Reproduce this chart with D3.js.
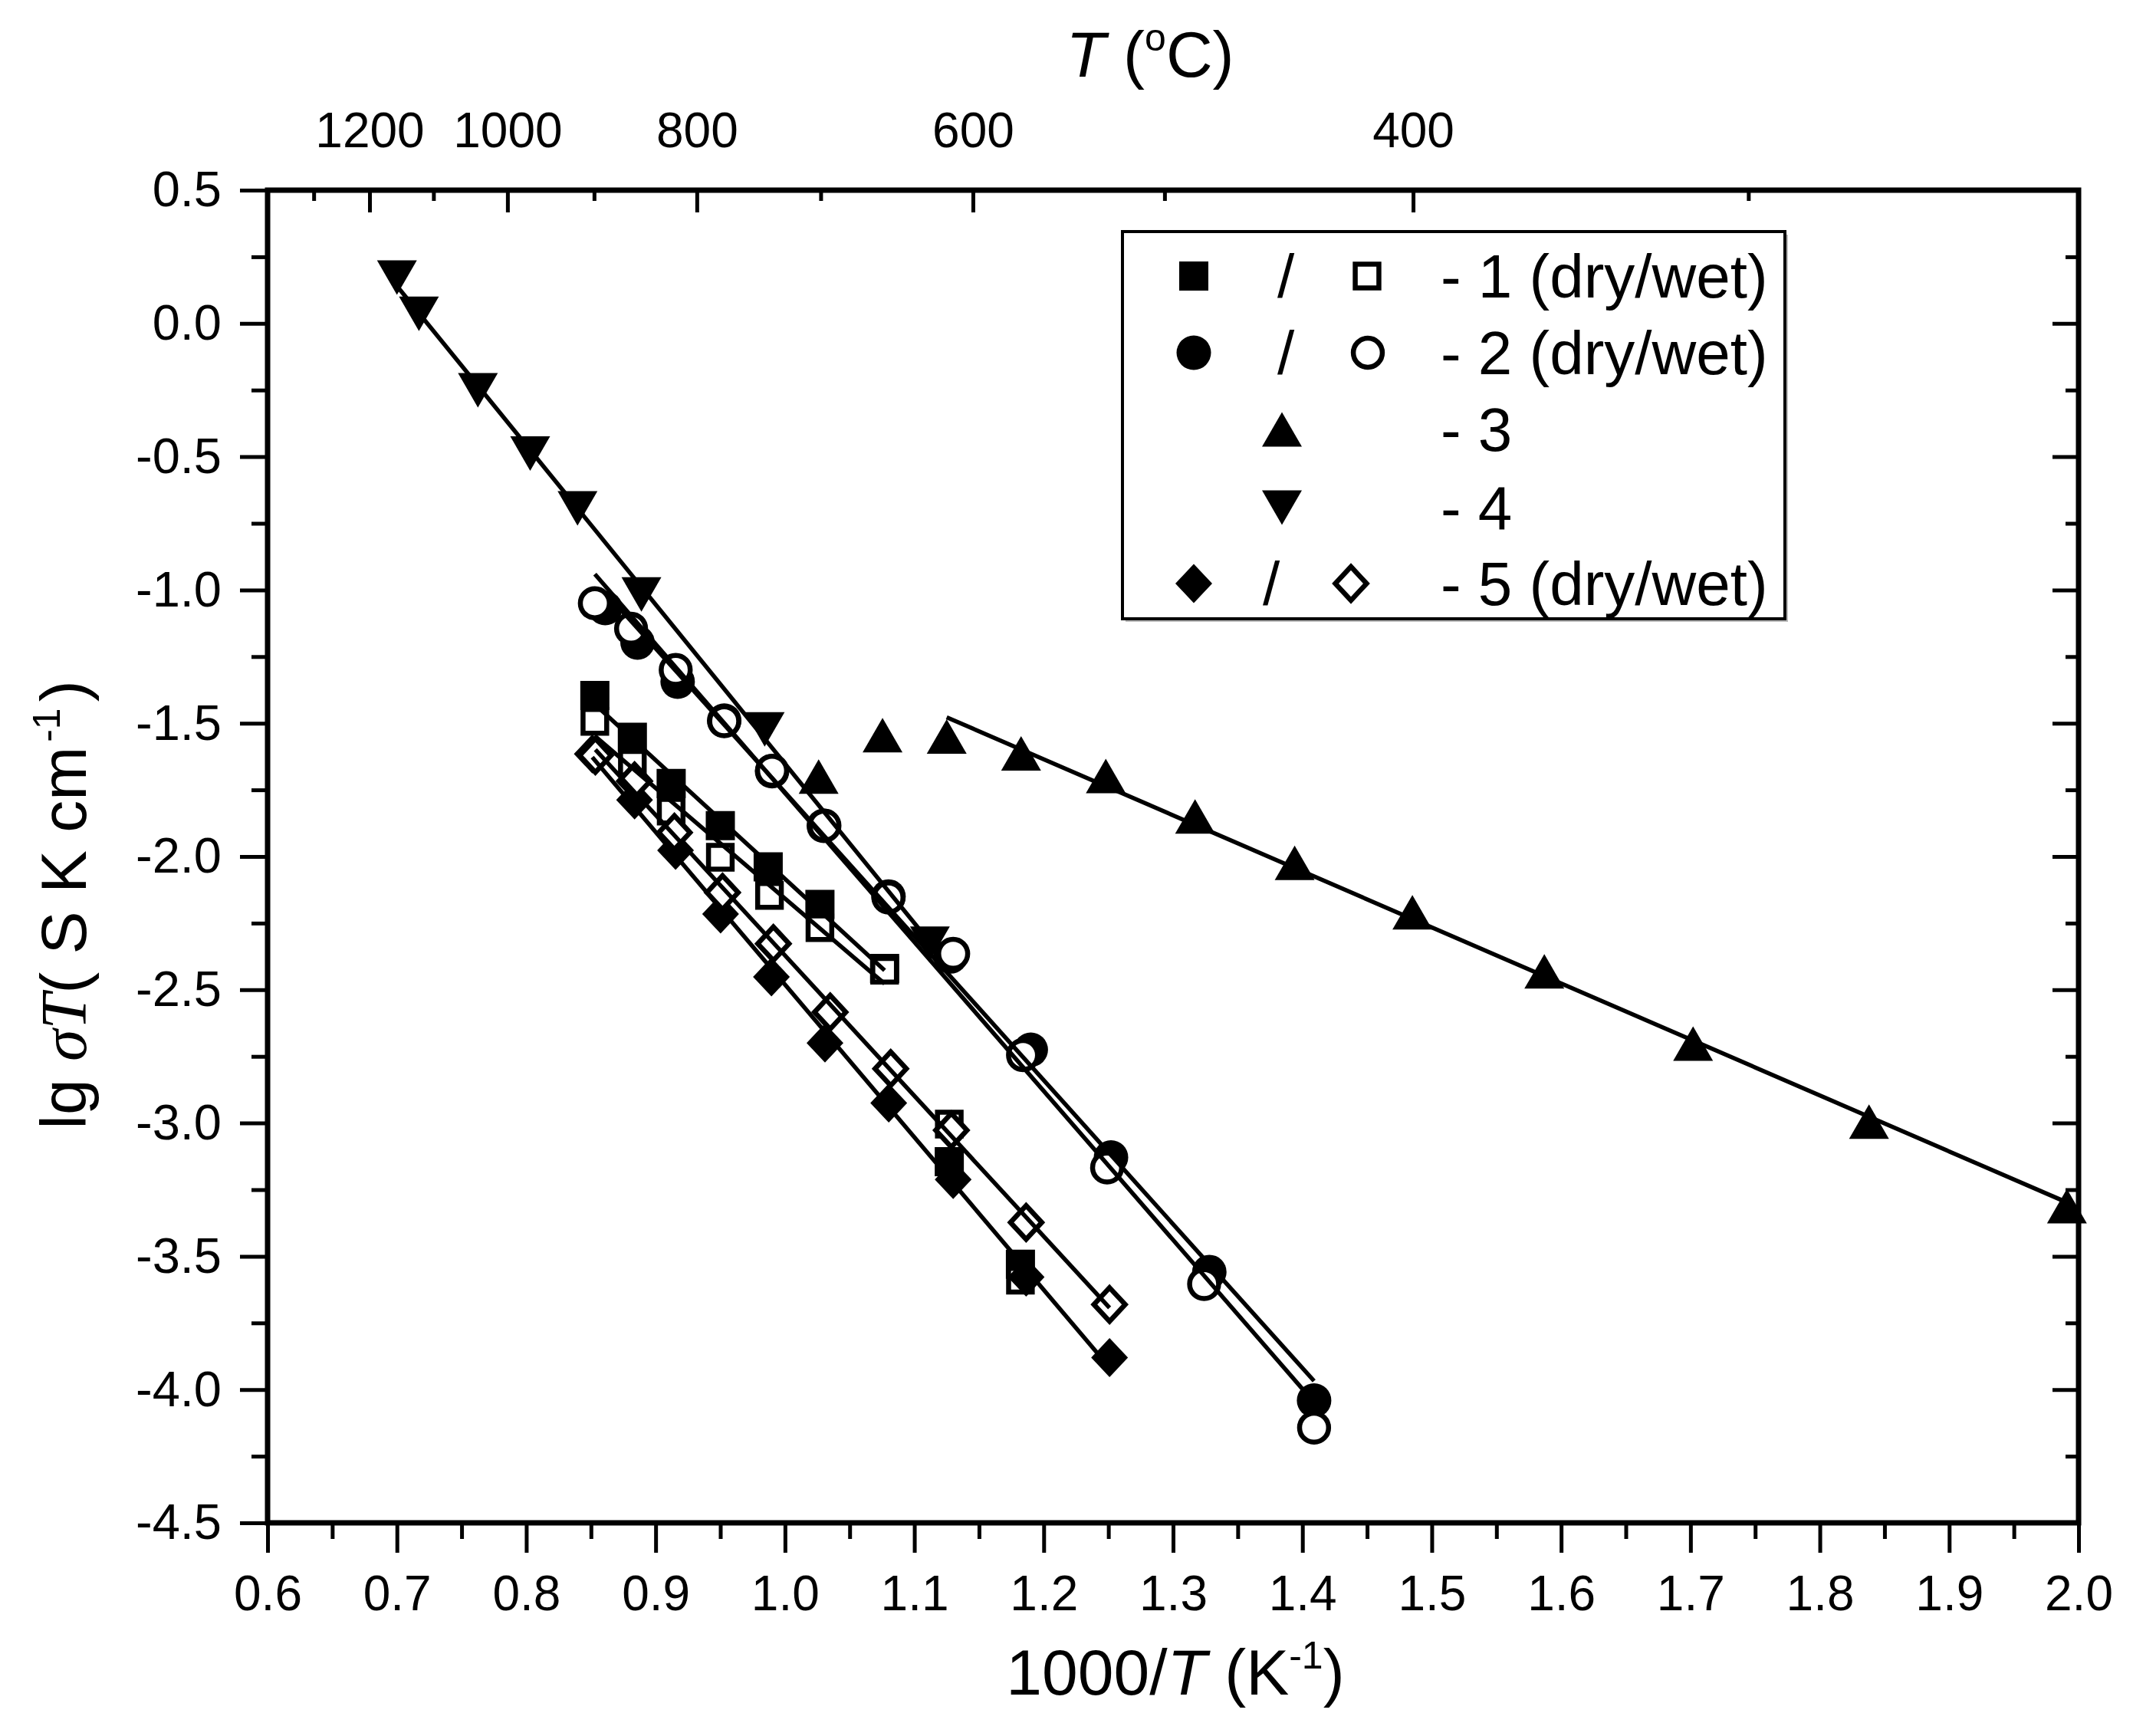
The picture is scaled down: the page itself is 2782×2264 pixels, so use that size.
<!DOCTYPE html>
<html><head><meta charset="utf-8">
<script src="https://cdn.jsdelivr.net/npm/d3@7"></script>
<style>
html,body{margin:0;padding:0;background:#fff;}
svg{display:block;}
</style></head><body>
<svg id="chart" width="2782" height="2264"></svg>
<script>
// ---------------- data ----------------
const xTickValues = [0.6,0.7,0.8,0.9,1.0,1.1,1.2,1.3,1.4,1.5,1.6,1.7,1.8,1.9,2.0];
const xMinorValues = [0.65,0.75,0.85,0.95,1.05,1.15,1.25,1.35,1.45,1.55,1.65,1.75,1.85,1.95];
const yTickValues = [0.5,0.0,-0.5,-1.0,-1.5,-2.0,-2.5,-3.0,-3.5,-4.0,-4.5];
const yMinorValues = [0.25,-0.25,-0.75,-1.25,-1.75,-2.25,-2.75,-3.25,-3.75,-4.25];
const tempMajor = [1200,1000,800,600,400];       // top axis labels, °C
const tempMinor = [1300,1100,900,700,500,300];   // top axis minor ticks, °C

// series 1 (squares) dry / wet
const x1dry = [0.853,0.882,0.912,0.950,0.987,1.027,1.077,1.127,1.182];
const y1dry = [-1.396,-1.553,-1.726,-1.884,-2.039,-2.180,-2.420,-3.145,-3.530];
const x1wet = [0.853,0.882,0.912,0.950,0.988,1.027,1.077,1.127,1.182];
const y1wet = [-1.493,-1.650,-1.830,-2.003,-2.146,-2.267,-2.427,-3.004,-3.590];
// series 2 (circles) dry / wet
const x2dry = [0.861,0.886,0.917,0.953,0.990,1.030,1.080,1.128,1.190,1.252,1.328,1.409];
const y2dry = [-1.068,-1.197,-1.344,-1.490,-1.680,-1.885,-2.150,-2.375,-2.725,-3.129,-3.559,-4.041];
const x2wet = [0.853,0.881,0.9155,0.953,0.990,1.0305,1.080,1.130,1.184,1.249,1.324,1.409];
const y2wet = [-1.050,-1.145,-1.300,-1.4925,-1.678,-1.884,-2.154,-2.365,-2.745,-3.167,-3.604,-4.143];
// series 3 (up triangles)
const x3 = [1.026,1.0754,1.125,1.1825,1.248,1.317,1.394,1.485,1.587,1.702,1.838,1.991];
const y3 = [-1.700,-1.545,-1.550,-1.613,-1.698,-1.850,-2.024,-2.209,-2.431,-2.702,-2.995,-3.312];
// series 4 (down triangles)
const x4 = [0.700,0.717,0.7626,0.803,0.8396,0.889,0.9843,1.112];
const y4 = [0.172,0.036,-0.2506,-0.4885,-0.694,-1.017,-1.523,-2.327];
// series 5 (diamonds) dry / wet
const x5dry = [0.851,0.8837,0.9154,0.9502,0.9895,1.0309,1.0802,1.130,1.1864,1.2509];
const y5dry = [-1.615,-1.788,-1.977,-2.216,-2.452,-2.700,-2.925,-3.212,-3.578,-3.880];
const x5wet = [0.8534,0.8837,0.9145,0.9517,0.991,1.0349,1.0817,1.1286,1.1864,1.2509];
const y5wet = [-1.621,-1.717,-1.910,-2.135,-2.327,-2.584,-2.796,-3.027,-3.373,-3.681];

const legendLabels = ["- 1 (dry/wet)","- 2 (dry/wet)","- 3","- 4","- 5 (dry/wet)"];

// ---------------- layout ----------------
const FONT = "'Liberation Sans', Arial, Helvetica, sans-serif";
const SERIF = "'Liberation Serif', 'Times New Roman', serif";
const x = d3.scaleLinear().domain([0.6,2.0]).range([349,2711]);
const y = d3.scaleLinear().domain([-4.5,0.5]).range([1986,248]);
const svg = d3.select('#chart');
svg.append('rect').attr('width',2782).attr('height',2264).attr('fill','#fff');

function styleAxis(g, fs){
  g.select('.domain').remove();
  g.selectAll('.tick line').attr('stroke','#000').attr('stroke-width',5);
  g.selectAll('.tick text').attr('font-size',fs).attr('font-family',FONT).attr('fill','#000');
}
const fmt1 = d => d.toFixed(1);

// bottom axis
styleAxis(svg.append('g').attr('transform',`translate(0,${y(-4.5)})`)
  .call(d3.axisBottom(x).tickValues(xTickValues).tickFormat(fmt1).tickSizeInner(39).tickSizeOuter(0).tickPadding(30)), 64);
styleAxis(svg.append('g').attr('transform',`translate(0,${y(-4.5)})`)
  .call(d3.axisBottom(x).tickValues(xMinorValues).tickFormat('').tickSizeInner(21).tickSizeOuter(0)), 64);
// left axis
styleAxis(svg.append('g').attr('transform',`translate(${x(0.6)},0)`)
  .call(d3.axisLeft(y).tickValues(yTickValues).tickFormat(fmt1).tickSizeInner(36).tickSizeOuter(0).tickPadding(24)), 65);
styleAxis(svg.append('g').attr('transform',`translate(${x(0.6)},0)`)
  .call(d3.axisLeft(y).tickValues(yMinorValues).tickFormat('').tickSizeInner(21).tickSizeOuter(0)), 64);
// right axis (inward ticks)
styleAxis(svg.append('g').attr('transform',`translate(${x(2.0)},0)`)
  .call(d3.axisRight(y).tickValues(yTickValues).tickFormat('').tickSizeInner(-34).tickSizeOuter(0)), 64);
styleAxis(svg.append('g').attr('transform',`translate(${x(2.0)},0)`)
  .call(d3.axisRight(y).tickValues(yMinorValues).tickFormat('').tickSizeInner(-17).tickSizeOuter(0)), 64);
// top axis: temperature in °C (inward ticks)
const invT = t => 1000/(t+273.15);
styleAxis(svg.append('g').attr('transform',`translate(0,${y(0.5)})`)
  .call(d3.axisTop(x).tickValues(tempMajor.map(invT)).tickFormat((d,i)=>tempMajor[i]).tickSizeInner(-29).tickSizeOuter(0).tickPadding(56)), 64);
styleAxis(svg.append('g').attr('transform',`translate(0,${y(0.5)})`)
  .call(d3.axisTop(x).tickValues(tempMinor.map(invT)).tickFormat('').tickSizeInner(-14).tickSizeOuter(0)), 64);

// frame
svg.append('rect').attr('x',x(0.6)).attr('y',y(0.5)).attr('width',x(2.0)-x(0.6)).attr('height',y(-4.5)-y(0.5))
  .attr('fill','none').attr('stroke','#000').attr('stroke-width',7);

// ---------------- markers ----------------
const SW = 6.5;
const SIZES = {square:[38,38], circle:[45,45], up:[52,45], down:[52,45], diamond:[48,51]};
function shapePath(shape, w, h){
  switch(shape){
    case 'square': return `M${-w/2},${-h/2}h${w}v${h}h${-w}Z`;
    case 'up': return `M0,${-h/2}L${w/2},${h/2}L${-w/2},${h/2}Z`;
    case 'down': return `M0,${h/2}L${w/2},${-h/2}L${-w/2},${-h/2}Z`;
    case 'diamond': return `M0,${-h/2}L${w/2},0L0,${h/2}L${-w/2},0Z`;
  }
}
function marker(g, shape, filled, cx, cy){
  let [w,h] = SIZES[shape];
  if(!filled){ w -= SW*1.1; h -= SW*1.1; }
  let el;
  if(shape==='circle') el = g.append('circle').attr('cx',cx).attr('cy',cy).attr('r',w/2);
  else el = g.append('path').attr('d',shapePath(shape,w,h)).attr('transform',`translate(${cx},${cy})`);
  if(filled) el.attr('fill','#000').attr('stroke','none');
  else el.attr('fill','#fff').attr('stroke','#000').attr('stroke-width',SW).attr('stroke-linejoin','miter');
  return el;
}

const series = [
  {xs:x1dry, ys:y1dry, shape:'square',  filled:true,  fit:[0,6]},
  {xs:x1wet, ys:y1wet, shape:'square',  filled:false, fit:[0,6]},
  {xs:x2dry, ys:y2dry, shape:'circle',  filled:true,  fit:[0,11]},
  {xs:x2wet, ys:y2wet, shape:'circle',  filled:false, fit:[0,11]},
  {xs:x3,    ys:y3,    shape:'up',      filled:true,  fit:[2,11]},
  {xs:x4,    ys:y4,    shape:'down',    filled:true,  fit:[0,7]},
  {xs:x5dry, ys:y5dry, shape:'diamond', filled:true,  fit:[0,9]},
  {xs:x5wet, ys:y5wet, shape:'diamond', filled:false, fit:[0,9]},
];

const gMarks = svg.append('g');
series.forEach(s => s.xs.forEach((xv,i) => marker(gMarks, s.shape, s.filled, x(xv), y(s.ys[i]))));

// least-squares fit lines over each series' fitted points
function fitLine(xs, ys, i0, i1){
  const X = xs.slice(i0,i1+1), Y = ys.slice(i0,i1+1);
  const mx = d3.mean(X), my = d3.mean(Y);
  let sxy=0, sxx=0;
  X.forEach((v,i)=>{ sxy += (v-mx)*(Y[i]-my); sxx += (v-mx)*(v-mx); });
  const b = sxy/sxx, a = my - b*mx;
  const x0 = d3.min(X), x1 = d3.max(X);
  return [[x0,a+b*x0],[x1,a+b*x1]];
}
const line = d3.line().x(d=>x(d[0])).y(d=>y(d[1]));
const gLines = svg.append('g');
series.forEach(s => {
  gLines.append('path').attr('d', line(fitLine(s.xs, s.ys, s.fit[0], s.fit[1])))
    .attr('fill','none').attr('stroke','#000').attr('stroke-width',5.5);
});

// ---------------- legend ----------------
const lg = svg.append('g');
lg.append('rect').attr('x',1468).attr('y',306).attr('width',864).attr('height',505).attr('fill','#bbb');
lg.append('rect').attr('x',1464).attr('y',302).attr('width',864).attr('height',505)
  .attr('fill','#fff').attr('stroke','#000').attr('stroke-width',4);
const rowsY = [360,460,560,662,761];
const legendSymbols = [
  [['square',true,1557],['square',false,1783]],
  [['circle',true,1557],['circle',false,1784]],
  [['up',true,1672]],
  [['down',true,1672]],
  [['diamond',true,1557],['diamond',false,1762]],
];
const slashX = [1677,1677,null,null,1658];
legendSymbols.forEach((row,i)=>{
  row.forEach(([shape,filled,cx]) => marker(lg, shape, filled, cx, rowsY[i]));
  if(slashX[i]) lg.append('text').attr('x',slashX[i]).attr('y',rowsY[i]+28).attr('text-anchor','middle')
      .attr('font-family',FONT).attr('font-size',80).text('/');
  lg.append('text').attr('x',1879).attr('y',rowsY[i]+28).attr('font-family',FONT).attr('font-size',80)
    .text(legendLabels[i]);
});

// ---------------- axis titles ----------------
const bt = svg.append('text').attr('x',1533).attr('y',2210).attr('text-anchor','middle')
  .attr('font-family',FONT).attr('font-size',84);
bt.append('tspan').text('1000/');
bt.append('tspan').attr('font-style','italic').text('T');
bt.append('tspan').text(' (K');
bt.append('tspan').attr('font-size',50).attr('dy',-34).text('-1');
bt.append('tspan').attr('dy',34).text(')');

const tt = svg.append('text').attr('x',1500).attr('y',100).attr('text-anchor','middle')
  .attr('font-family',FONT).attr('font-size',84);
tt.append('tspan').attr('font-style','italic').text('T');
tt.append('tspan').text(' (');
tt.append('tspan').attr('font-size',50).attr('dy',-34).text('o');
tt.append('tspan').attr('dy',34).text('C)');

const yt = svg.append('text').attr('transform','translate(112,1180) rotate(-90)').attr('text-anchor','middle')
  .attr('font-family',FONT).attr('font-size',84);
yt.append('tspan').text('lg ');
yt.append('tspan').attr('font-family',SERIF).attr('font-style','italic').text('σT');
yt.append('tspan').text('( S K cm');
yt.append('tspan').attr('font-size',50).attr('dy',-34).attr('dx',6).text('-1');
yt.append('tspan').attr('dy',34).attr('dx',8).text(')');
</script>
</body></html>
